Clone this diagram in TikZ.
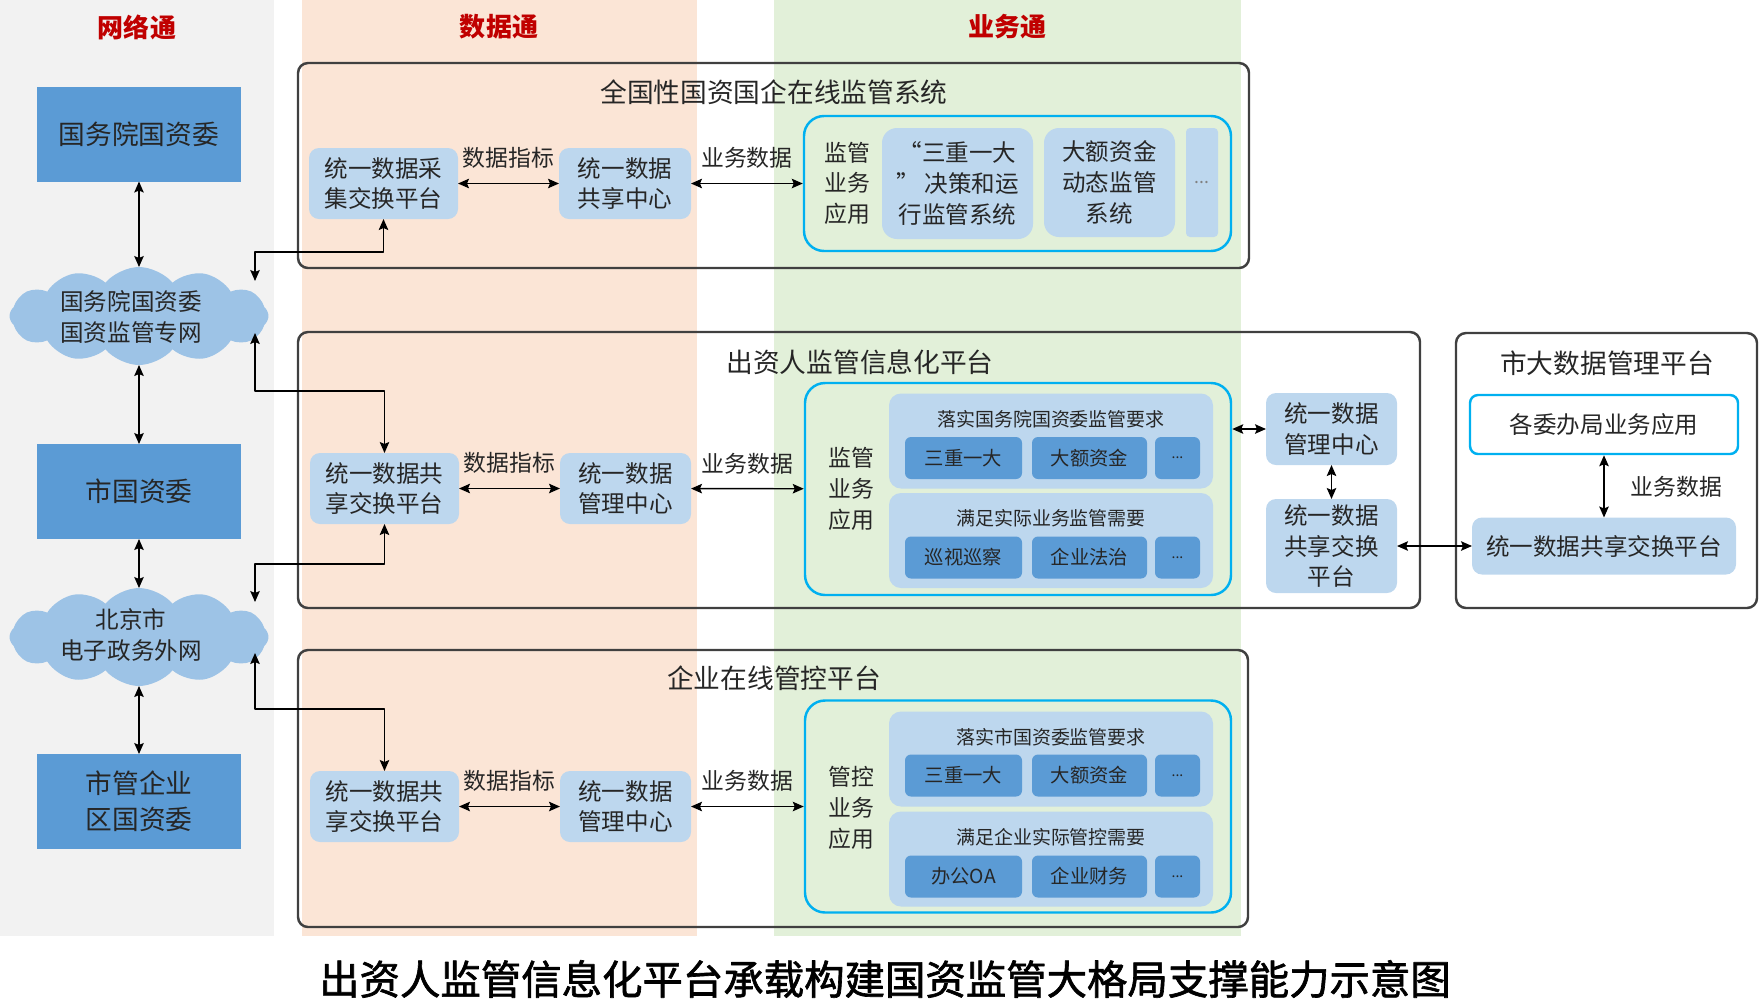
\documentclass[tikz,border=0pt]{standalone}
\usepackage{fontspec}
\setmainfont{Noto Sans CJK SC}
\newfontfamily\capfont[FakeBold=1.6]{Noto Sans CJK SC}
\usetikzlibrary{shapes.symbols,positioning,arrows.meta}
\definecolor{headred}{HTML}{C00000}
\definecolor{colgrey}{HTML}{F2F2F2}
\definecolor{colpeach}{HTML}{FBE5D6}
\definecolor{colgreen}{HTML}{E2F0D9}
\definecolor{orgblue}{HTML}{5B9BD5}
\definecolor{lightblue}{HTML}{BDD7EE}
\definecolor{cloudblue}{HTML}{9DC3E6}
\definecolor{appcyan}{HTML}{00B0F0}
\definecolor{framegrey}{HTML}{404040}
\definecolor{txt}{HTML}{262626}
\begin{document}
\begin{tikzpicture}[x=0.1mm, y=-0.1mm, line join=round, >={Stealth[length=1.1mm,width=0.95mm,inset=0.2mm]}, text=txt,
    font=\fontsize{6.7}{8.8}\selectfont,
    head/.style={text=headred, font=\fontsize{7.4}{9}\selectfont\bfseries},
    org/.style={fill=orgblue, align=center, inner sep=0pt, outer sep=0pt, minimum width=20.4mm, minimum height=9.5mm, font=\fontsize{7.6}{10.3}\selectfont},
    net/.style={cloud, cloud puffs=12, cloud puff arc=100, cloud ignores aspect, fill=cloudblue, inner sep=0pt, outer sep=0pt, minimum width=25.9mm, minimum height=9.8mm},
    frame/.style={draw=framegrey, line width=0.7pt, rounded corners=1mm, inner sep=0pt},
    ftitle/.style={font=\fontsize{7.6}{9}\selectfont},
    unit/.style={fill=lightblue, rounded corners=1mm, align=center, inner sep=0pt, outer sep=0pt},
    app/.style={draw=appcyan, line width=0.7pt, rounded corners=2mm, inner sep=0pt},
    grp/.style={fill=lightblue, rounded corners=1.2mm, inner sep=0pt, minimum width=32.4mm, minimum height=9.5mm},
    gtitle/.style={font=\fontsize{5.4}{6}\selectfont},
    btn/.style={fill=orgblue, rounded corners=0.6mm, inner sep=0pt, minimum height=4.2mm, font=\fontsize{5.5}{6}\selectfont},
    lbl/.style={font=\fontsize{6.5}{8}\selectfont, inner sep=0pt},
    link/.style={<->, line width=0.4pt}]
    \useasboundingbox (0,0) rectangle (1759,1000);
    % columns
    \fill[colgrey] (0,0) rectangle (274,936);
    \fill[colpeach] (302,0) rectangle (697,936);
    \fill[colgreen] (774,0) rectangle (1241,936);
    \node[head] (hnet) at (137,27) {网络通};
    \node[head] (hdata) at (499,27) {数据通};
    \node[head] (hbiz) at (1007,27) {业务通};
    % left side
    \node[org] (gzw) at (139,134) {国务院国资委};
    \node[net] (net1) at (139,316) {};
    \node[align=center, inner sep=0pt] (net1t) at (131,317) {国务院国资委\\国资监管专网};
    \node[org] (sgzw) at (139,491.5) {市国资委};
    \node[net] (net2) at (139,637) {};
    \node[align=center, inner sep=0pt] (net2t) at (131,635) {北京市\\电子政务外网};
    \node[org] (sgqy) at (139,801.5) {市管企业\\区国资委};
    \draw[link] (gzw) -- (net1);
    \draw[link] (net1) -- (sgzw);
    \draw[link] (sgzw) -- (net2);
    \draw[link] (net2) -- (sgqy);
    % frames
    \node[frame, minimum width=95.1mm, minimum height=20.5mm] (sysA) at (773.5,165.5) {};
    \node[ftitle] (tA) at (774,92) {全国性国资国企在线监管系统};
    \node[frame, minimum width=112.2mm, minimum height=27.6mm] (sysB) at (859,470) {};
    \node[ftitle] (tB) at (860,362) {出资人监管信息化平台};
    \node[frame, minimum width=30.1mm, minimum height=27.5mm] (sysC) at (1606.5,470.5) {};
    \node[ftitle] (tC) at (1607,363) {市大数据管理平台};
    \node[frame, minimum width=95mm, minimum height=27.7mm] (sysD) at (773,788.5) {};
    \node[ftitle] (tD) at (774,678) {企业在线管控平台};
    % national system
    \node[unit, minimum width=14.9mm, minimum height=7.1mm] (collA) at (383.5,183.5) {统一数据采\\集交换平台};
    \node[unit, minimum width=13.2mm, minimum height=7.1mm] (shareA) at (625,183.5) {统一数据\\共享中心};
    \node[app, minimum width=42.7mm, minimum height=13.5mm] (appA) at (1017.5,183.5) {};
    \node[lbl, align=center, font=\fontsize{6.5}{8.7}\selectfont] (jgA) at (847,183) {监管\\业务\\应用};
    \node[unit, rounded corners=1.5mm, minimum width=15.1mm, minimum height=11.1mm] (sdyd) at (957.5,183.5) {“三重一大\\” 决策和运\\行监管系统};
    \node[unit, rounded corners=1.5mm, minimum width=13.1mm, minimum height=10.9mm] (dezj) at (1109.5,182.5) {大额资金\\动态监管\\系统};
    \node[unit, rounded corners=0.4mm, minimum width=3.2mm, minimum height=10.9mm, text=gray, font=\fontsize{5}{6}\selectfont] (moreA) at (1202,182.5) {...};
    \draw[link] (collA) -- (shareA) node[lbl, midway, above=1.4mm] {数据指标};
    \draw[link] (shareA) -- (appA) node[lbl, midway, above=1.4mm] {业务数据};
    % supervision platform
    \node[unit, minimum width=14.9mm, minimum height=7.1mm] (shareB) at (384.5,488.5) {统一数据共\\享交换平台};
    \node[unit, minimum width=13.1mm, minimum height=7.1mm] (mgmtB) at (625.5,488.5) {统一数据\\管理中心};
    \node[app, minimum width=42.6mm, minimum height=21.2mm] (appB) at (1018,489) {};
    \node[lbl, align=center, font=\fontsize{6.5}{8.9}\selectfont] (jgB) at (851,489) {监管\\业务\\应用};
    \node[grp] (reqB) at (1051,441) {};
    \node[gtitle] (reqBt) at (1051,419) {落实国务院国资委监管要求};
    \node[btn, minimum width=11.7mm] (sdydB) at (963.5,458) {三重一大};
    \node[btn, minimum width=11.5mm] (dezjB) at (1089.5,458) {大额资金};
    \node[btn, minimum width=4.5mm, font=\fontsize{4}{5}\selectfont] (moreB1) at (1177.5,458) {...};
    \node[grp] (needB) at (1051,540.5) {};
    \node[gtitle] (needBt) at (1051,518) {满足实际业务监管需要};
    \node[btn, minimum width=11.7mm] (xsxc) at (963.5,557.5) {巡视巡察};
    \node[btn, minimum width=11.5mm] (qyfz) at (1089.5,557.5) {企业法治};
    \node[btn, minimum width=4.5mm, font=\fontsize{4}{5}\selectfont] (moreB2) at (1177.5,557.5) {...};
    \node[unit, minimum width=13.1mm, minimum height=7.2mm] (rmgmtB) at (1331.5,429) {统一数据\\管理中心};
    \node[unit, minimum width=13.1mm, minimum height=9.4mm] (rshareB) at (1331.5,546) {统一数据\\共享交换\\平台};
    \draw[link] (shareB) -- (mgmtB) node[lbl, midway, above=1.4mm] {数据指标};
    \draw[link] (mgmtB) -- (appB) node[lbl, midway, above=1.4mm] {业务数据};
    \draw[link] (appB.east |- rmgmtB) -- (rmgmtB);
    \draw[link] (rmgmtB) -- (rshareB);
    % city big data platform
    \node[draw=appcyan, line width=0.7pt, fill=white, rounded corners=0.8mm, minimum width=26.8mm, minimum height=5.9mm] (apps) at (1604,424.5) {各委办局业务应用};
    \node[unit, minimum width=26.4mm, minimum height=5.7mm] (shareC) at (1604,546) {统一数据共享交换平台};
    \draw[link] (apps) -- (shareC) node[lbl, midway, right=2.6mm] {业务数据};
    \draw[link] (rshareB) -- (shareC);
    % enterprise platform
    \node[unit, minimum width=14.9mm, minimum height=7.1mm] (shareD) at (384.5,806.5) {统一数据共\\享交换平台};
    \node[unit, minimum width=13.1mm, minimum height=7.1mm] (mgmtD) at (625.5,806.5) {统一数据\\管理中心};
    \node[app, minimum width=42.6mm, minimum height=21.2mm] (appD) at (1018,806.5) {};
    \node[lbl, align=center, font=\fontsize{6.5}{8.9}\selectfont] (gkD) at (851,808) {管控\\业务\\应用};
    \node[grp] (reqD) at (1051,759) {};
    \node[gtitle] (reqDt) at (1051,737) {落实市国资委监管要求};
    \node[btn, minimum width=11.7mm] (sdydD) at (963.5,775.5) {三重一大};
    \node[btn, minimum width=11.5mm] (dezjD) at (1089.5,775.5) {大额资金};
    \node[btn, minimum width=4.5mm, font=\fontsize{4}{5}\selectfont] (moreD1) at (1177.5,775.5) {...};
    \node[grp] (needD) at (1051,859) {};
    \node[gtitle] (needDt) at (1051,837) {满足企业实际管控需要};
    \node[btn, minimum width=11.7mm] (bgoa) at (963.5,876.5) {办公OA};
    \node[btn, minimum width=11.5mm] (qycw) at (1089.5,876.5) {企业财务};
    \node[btn, minimum width=4.5mm, font=\fontsize{4}{5}\selectfont] (moreD2) at (1177.5,876.5) {...};
    \draw[link] (shareD) -- (mgmtD) node[lbl, midway, above=1.4mm] {数据指标};
    \draw[link] (mgmtD) -- (appD) node[lbl, midway, above=1.4mm] {业务数据};
    % network links
    \coordinate (n1t) at (255,281);
    \coordinate (n1b) at (255,333);
    \coordinate (n2t) at (255,602);
    \coordinate (n2b) at (255,653);
    \draw[link] (n1t) -- ++(0,-29) -| (collA.south);
    \draw[link] (n1b) -- ++(0,58) -| (shareB.north);
    \draw[link] (n2t) -- ++(0,-38) -| (shareB.south);
    \draw[link] (n2b) -- ++(0,56) -| (shareD.north);
    % caption
    \node[text=black, font=\fontsize{11.5}{13}\capfont] (cap) at (885,979) {出资人监管信息化平台承载构建国资监管大格局支撑能力示意图};
\end{tikzpicture}
\end{document}
